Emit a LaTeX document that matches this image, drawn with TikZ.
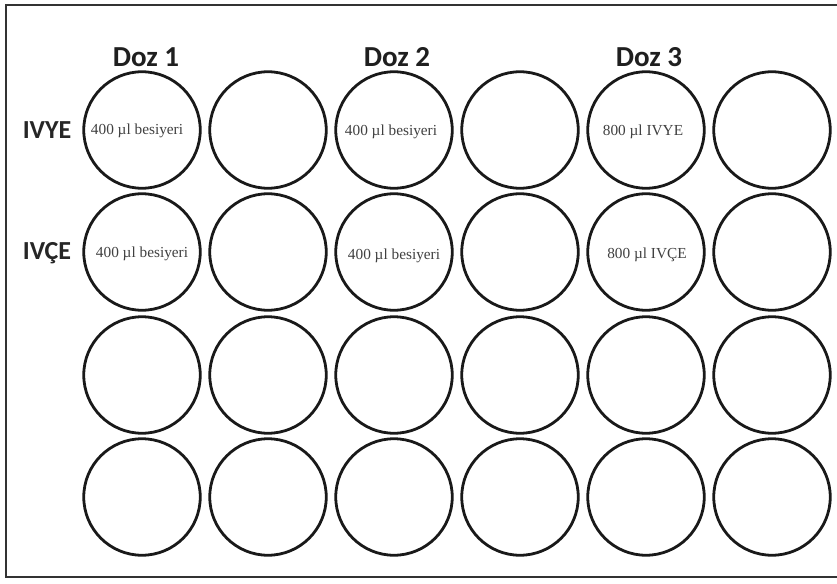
\documentclass[tikz,border=0pt]{standalone}
\usepackage{fontspec}
\setmainfont{Liberation Serif}
\newfontfamily\labelfont{Carlito}
\begin{document}
\begin{tikzpicture}[x=1pt,y=-1pt,
  well/.style={circle,draw=black!90,line width=2.8pt,minimum size=116.5pt,inner sep=0pt},
  doselabel/.style={font=\labelfont\bfseries\fontsize{29}{32}\selectfont,text=black!88,inner sep=0pt},
  rowlabel/.style={font=\labelfont\bfseries\fontsize{26}{30}\selectfont,text=black!85,inner sep=0pt},
  welltext/.style={font=\fontsize{15.3}{17}\selectfont,text=black!75,inner sep=0pt}]
\useasboundingbox (0,0) rectangle (837,583);
\fill[white] (0,0) rectangle (837,583);
\draw[line width=2pt,black!80] (837,5) -- (6,5) -- (6,577) -- (837,577);
% wells
\foreach \r/\yy in {1/130,2/252,3/375,4/497}{
  \foreach \c/\xx in {1/142,2/268,3/394,4/520,5/646,6/772}{
    \node[well] (w\r\c) at (\xx,\yy) {};
  }
}
% dose labels
\node[doselabel] (d1) at (146,57) {Doz 1};
\node[doselabel] (d2) at (397,57) {Doz 2};
\node[doselabel] (d3) at (649,57) {Doz 3};
% row labels
\node[rowlabel] (ivye) at (47,130) {IVYE};
\node[rowlabel] (ivce) at (47,253) {IVÇE};
% well texts
\node[welltext] (t11) at (137,131) {400 µl besiyeri};
\node[welltext] (t13) at (391,132) {400 µl besiyeri};
\node[welltext] (t15) at (643,132) {800 µl IVYE};
\node[welltext] (t21) at (142,254) {400 µl besiyeri};
\node[welltext] (t23) at (394,256) {400 µl besiyeri};
\node[welltext] (t25) at (647,255) {800 µl IVÇE};
\end{tikzpicture}
\end{document}
